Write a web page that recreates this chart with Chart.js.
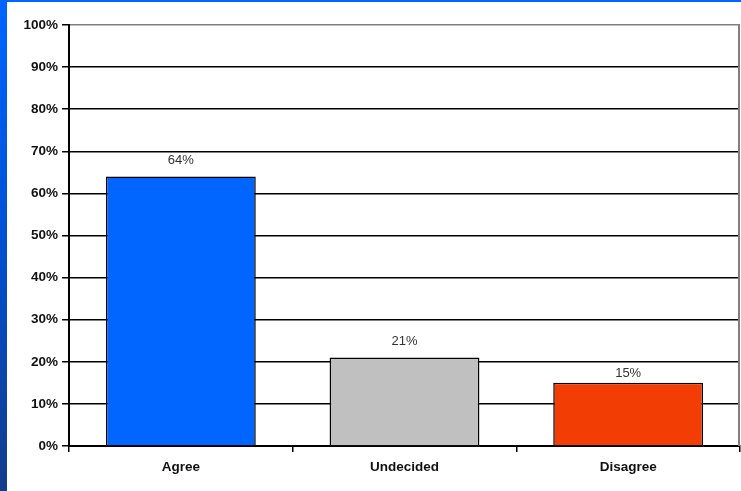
<!DOCTYPE html>
<html>
<head>
<meta charset="utf-8">
<script src="https://cdn.jsdelivr.net/npm/chart.js@4/dist/chart.umd.min.js"></script>
<style>
  html, body { margin: 0; padding: 0; background: #fff; }
  #wrap { position: relative; width: 741px; height: 491px; overflow: hidden; }
  #chart { position: absolute; left: 0; top: 0; }
  .stripe-left { position: absolute; left: 0; top: 0; width: 7px; height: 491px;
    background: linear-gradient(to bottom, #0066ff 0%, #0052d6 45%, #143c8c 100%); }
  .stripe-top { position: absolute; left: 0; top: 0; width: 741px; height: 2px; background: #0066ff; }
</style>
</head>
<body>
<div id="wrap">
  <canvas id="chart" width="741" height="491"></canvas>
  <div class="stripe-left"></div>
  <div class="stripe-top"></div>
</div>
<script>
// Reponses au sondage (en %)
const categories = ['Agree', 'Undecided', 'Disagree'];
const valeurs = [64, 21, 15];
const couleurs = ['#0066ff', '#c0c0c0', '#f23d05'];
const yTicks = [0, 10, 20, 30, 40, 50, 60, 70, 80, 90, 100];

const police = '"Liberation Sans", Arial, sans-serif';

// Etiquettes de valeur au-dessus des barres + bordure droite grise
const barLabels = {
  id: 'barLabels',
  afterDatasetsDraw(chart) {
    const ctx = chart.ctx;
    const yScale = chart.scales.y;
    const lignes = yTicks.map(v => yScale.getPixelForValue(v));
    const meta = chart.getDatasetMeta(0);
    ctx.save();
    ctx.font = '13px ' + police;
    ctx.fillStyle = '#333';
    ctx.textAlign = 'center';
    ctx.textBaseline = 'middle';
    meta.data.forEach((bar, i) => {
      let y = bar.y - 16;
      // si l'etiquette chevauche une ligne de grille, on la descend juste dessous
      const g = lignes.find(l => Math.abs(l - y) < 7);
      if (g !== undefined && g + 12 < bar.y - 6) y = g + 12;
      ctx.fillText(valeurs[i] + '%', bar.x, y);
    });
    ctx.restore();
  },
  beforeDatasetsDraw(chart) {
    const { ctx, chartArea } = chart;
    ctx.save();
    ctx.strokeStyle = '#808080';
    ctx.lineWidth = 2;
    ctx.beginPath();
    ctx.moveTo(chartArea.right - 1, chartArea.top);
    ctx.lineTo(chartArea.right - 1, chartArea.bottom);
    ctx.stroke();
    ctx.restore();
  }
};

new Chart(document.getElementById('chart'), {
  type: 'bar',
  data: {
    labels: categories,
    datasets: [{
      data: valeurs,
      backgroundColor: couleurs,
      borderColor: '#000',
      borderWidth: 1.5,
      categoryPercentage: 1,
      barPercentage: 0.67
    }]
  },
  options: {
    responsive: false,
    animation: false,
    layout: { padding: { top: 25, right: 1, left: 0, bottom: 0 } },
    plugins: { legend: { display: false }, tooltip: { enabled: false } },
    scales: {
      x: {
        grid: { offset: true, drawOnChartArea: false, color: '#000', lineWidth: 1.5, tickLength: 6 },
        border: { color: '#000', width: 2 },
        ticks: {
          color: '#111', padding: 7,
          font: { family: police, size: 13.5, weight: 'bold' }
        },
        afterFit: s => { s.height = 45; }
      },
      y: {
        min: 0, max: 100,
        afterBuildTicks: s => { s.ticks = yTicks.map(v => ({ value: v })); },
        grid: {
          color: c => c.tick && c.tick.value === 100 ? '#808080' : '#000',
          lineWidth: 1.5, tickLength: 7, tickColor: '#000'
        },
        border: { color: '#000', width: 2 },
        ticks: {
          color: '#111', padding: 4,
          callback: v => v + '%',
          font: { family: police, size: 13.5, weight: 'bold' }
        },
        afterFit: s => { s.width = 69; }
      }
    }
  },
  plugins: [barLabels]
});
</script>
</body>
</html>
